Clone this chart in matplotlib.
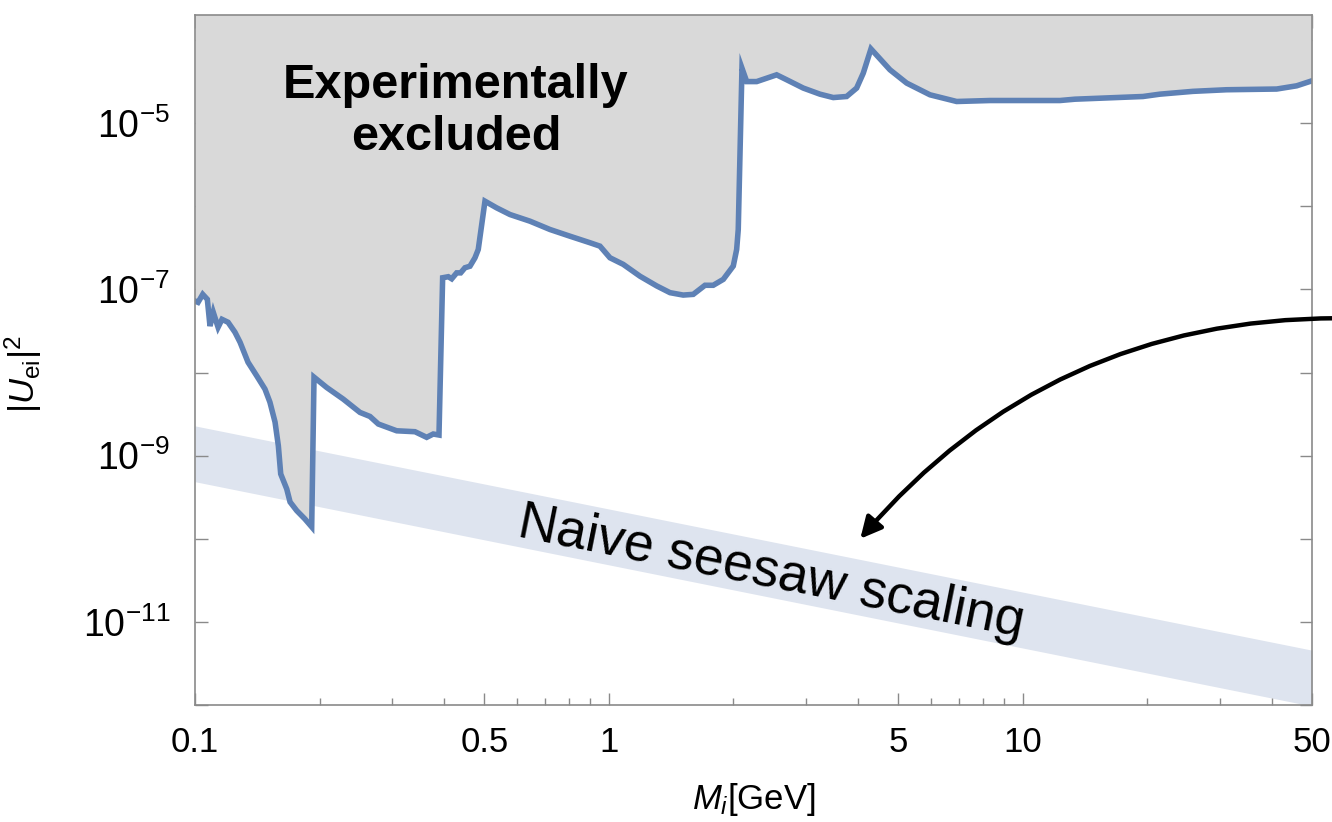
import numpy as np
import matplotlib
matplotlib.use('Agg')
import matplotlib.pyplot as plt
from matplotlib.patches import FancyArrowPatch

plt.rcParams['font.family'] = ['Liberation Sans', 'DejaVu Sans']
plt.rcParams['mathtext.fontset'] = 'custom'
plt.rcParams['mathtext.rm'] = 'Liberation Sans'
plt.rcParams['mathtext.it'] = 'Liberation Sans:italic'
plt.rcParams['mathtext.bf'] = 'Liberation Sans:bold'

# upper bound on |U_ei|^2 vs heavy neutrino mass (GeV)
mass = [0.1, 0.1017, 0.1044, 0.1071, 0.1087, 0.1107, 0.1137, 0.1162, 0.1202,
        0.1249, 0.1285, 0.1343, 0.1410, 0.1476, 0.1517, 0.1561, 0.1590, 0.1611,
        0.1666, 0.1697, 0.1761, 0.1843, 0.1914, 0.1939, 0.2080, 0.2282, 0.2504,
        0.2647, 0.2773, 0.3071, 0.3400, 0.3629, 0.3764, 0.3886, 0.3966, 0.4093,
        0.4171, 0.4288, 0.4384, 0.4490, 0.4617, 0.4748, 0.4835, 0.5019, 0.5355,
        0.5768, 0.6448, 0.7207, 0.8055, 0.9000, 0.9517, 1.006, 1.083, 1.189,
        1.305, 1.405, 1.512, 1.599, 1.707, 1.787, 1.890, 1.998, 2.036, 2.054,
        2.097, 2.153, 2.276, 2.406, 2.543, 2.690, 2.949, 3.236, 3.485, 3.754,
        3.969, 4.118, 4.298, 4.777, 5.243, 5.969, 6.923, 8.331, 12.30, 13.37,
        19.52, 21.45, 25.77, 31.09, 41.07, 45.91, 50.0]
bound = [7.24e-8, 6.98e-8, 8.71e-8, 7.59e-8, 3.62e-8, 5.30e-8, 3.50e-8, 4.36e-8, 4.02e-8,
         3.05e-8, 2.31e-8, 1.33e-8, 9.10e-9, 6.31e-9, 4.40e-9, 2.53e-9, 1.31e-9, 6.02e-10,
         3.97e-10, 2.77e-10, 2.18e-10, 1.73e-10, 1.39e-10, 8.79e-9, 6.61e-9, 4.78e-9, 3.31e-9,
         2.96e-9, 2.40e-9, 1.99e-9, 1.94e-9, 1.66e-9, 1.82e-9, 1.77e-9, 1.38e-7, 1.42e-7,
         1.34e-7, 1.58e-7, 1.58e-7, 1.82e-7, 1.90e-7, 2.40e-7, 3.02e-7, 1.15e-6, 9.57e-7,
         7.95e-7, 6.61e-7, 5.25e-7, 4.36e-7, 3.64e-7, 3.31e-7, 2.40e-7, 2.00e-7, 1.44e-7,
         1.10e-7, 9.13e-8, 8.54e-8, 8.71e-8, 1.12e-7, 1.12e-7, 1.32e-7, 1.91e-7, 3.02e-7, 5.25e-7,
         4.58e-5, 3.16e-5, 3.16e-5, 3.47e-5, 3.81e-5, 3.32e-5, 2.64e-5, 2.23e-5, 2.03e-5, 2.09e-5,
         2.64e-5, 3.99e-5, 7.81e-5, 4.38e-5, 3.03e-5, 2.19e-5, 1.82e-5, 1.87e-5, 1.87e-5, 1.94e-5,
         2.09e-5, 2.23e-5, 2.41e-5, 2.52e-5, 2.57e-5, 2.81e-5, 3.23e-5]

# naive seesaw band, m_nu / M
band_mass = [0.1, 50.0]
band_low = [4.86e-10, 9.7e-13]
band_high = [2.28e-9, 4.57e-12]

xticks = [0.1, 0.5, 1, 5, 10, 50]
xticklabels = ['0.1', '0.5', '1', '5', '10', '50']
xminor = [0.2, 0.3, 0.4, 0.6, 0.7, 0.8, 0.9, 2, 3, 4, 6, 7, 8, 9, 20, 30, 40]
yticks = [1e-12, 1e-11, 1e-10, 1e-9, 1e-8, 1e-7, 1e-6, 1e-5, 1e-4]
yticklabels = ['', r'$10^{-11}$', '', r'$10^{-9}$', '', r'$10^{-7}$', '', r'$10^{-5}$', '']

blue = '#5e81b5'
frame = '#8a8a8a'

fig = plt.figure(figsize=(13.32, 8.22), dpi=100)
ax = fig.add_axes([0.1464, 0.1423, 0.8386, 0.8395])
ax.set_xscale('log')
ax.set_yscale('log')
ax.set_xlim(0.1, 50)
ax.set_ylim(1e-12, 2.0e-4)

ax.fill_between(band_mass, band_low, band_high, color='#dee4ef', lw=0, zorder=1)
ax.fill_between(mass, bound, 1.0, color='#d9d9d9', lw=0, zorder=2)
ax.plot(mass, bound, color=blue, lw=4.0, solid_joinstyle='miter', zorder=3)

ax.text(0.427, 1.37e-5, 'Experimentally\nexcluded', fontsize=35, fontweight='bold',
        ha='center', va='center', linespacing=1.2, zorder=4)
ax.text(2.47, 3.85e-11, 'Naive seesaw scaling', fontsize=38.5, rotation=-11.3,
        rotation_mode='anchor', ha='center', va='center', zorder=4)

arrow = FancyArrowPatch((58.0, 4.5e-8), (4.05, 1.0e-10), transform=ax.transData,
                        connectionstyle='arc3,rad=0.23', arrowstyle='-|>',
                        mutation_scale=32, lw=3.2, color='black',
                        shrinkA=0, shrinkB=0, clip_on=False, zorder=5)
fig.add_artist(arrow)

ax.set_xticks(xticks)
ax.set_xticklabels(xticklabels)
ax.set_xticks(xminor, minor=True)
ax.set_xticklabels([], minor=True)
ax.set_yticks(yticks)
ax.set_yticklabels(yticklabels)
ax.yaxis.set_minor_locator(matplotlib.ticker.NullLocator())

ax.tick_params(which='both', direction='in', top=True, right=True, color=frame,
               width=1.0)
ax.tick_params(which='major', length=9)
ax.tick_params(which='minor', length=5)
ax.tick_params(axis='x', pad=15, labelsize=25)
ax.tick_params(axis='y', pad=18, labelsize=27)
for s in ax.spines.values():
    s.set_color(frame)
    s.set_linewidth(1.2)
    s.set_zorder(6)

ax.set_xlabel(r'$M_i$[GeV]', fontsize=25)
ax.xaxis.set_label_coords(0.5, -0.11)
ax.set_ylabel(r'$|U_{\mathrm{ei}}|^2$', fontsize=25)
ax.yaxis.set_label_coords(-0.135, 0.48)

fig.savefig('out.png', dpi=100)
